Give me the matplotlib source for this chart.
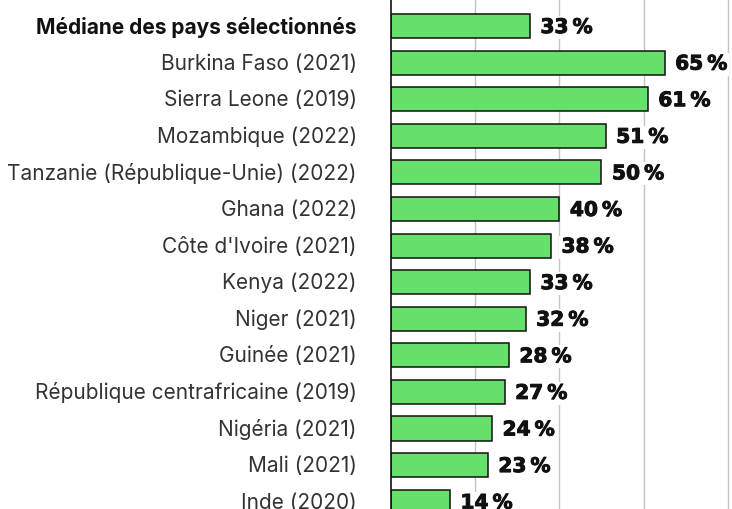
import matplotlib.pyplot as plt
import matplotlib.patheffects as pe
from matplotlib.transforms import ScaledTranslation

# Part des ... par pays (en %), médiane en tête
pays = [
    "Médiane des pays sélectionnés",
    "Burkina Faso (2021)",
    "Sierra Leone (2019)",
    "Mozambique (2022)",
    "Tanzanie (République-Unie) (2022)",
    "Ghana (2022)",
    "Côte d'Ivoire (2021)",
    "Kenya (2022)",
    "Niger (2021)",
    "Guinée (2021)",
    "République centrafricaine (2019)",
    "Nigéria (2021)",
    "Mali (2021)",
    "Inde (2020)",
]
valeurs = [33, 65, 61, 51, 50, 40, 38, 33, 32, 28, 27, 24, 23, 14]
grille = [20, 40, 60, 80]

vert = "#66e06b"

fig = plt.figure(figsize=(7.32, 5.10), dpi=100)
ax = fig.add_axes([391 / 732, 0, 1 - 391 / 732, 1])

pos = list(range(len(pays)))
ax.barh(pos, valeurs, height=0.66, color=vert, edgecolor="#111111",
        linewidth=1.1, zorder=3)

for y, v in zip(pos, valeurs):
    t = ax.text(v + 2.5, y + 0.04, f"{v}\u2009%", va="center", ha="left",
                fontsize=14.5, fontweight="bold", family="DejaVu Sans",
                color="#111111", zorder=4,
                bbox=dict(boxstyle="square,pad=0.1", fc="white", ec="none"))
    t.set_path_effects([pe.withStroke(linewidth=0.7, foreground="#111111")])

for x in grille:
    ax.axvline(x, color="#c4c4c4", linewidth=1.0, zorder=1)

ax.set_xlim(0, 81)
ax.set_ylim(13.2, -0.74)

ax.set_yticks(pos)
ax.set_yticklabels(pays, fontsize=15, family=["Inter", "DejaVu Sans"],
                   color="#333333")
ax.get_yticklabels()[0].set_fontweight("bold")
ax.get_yticklabels()[0].set_color("#111111")
ax.tick_params(axis="y", length=0, pad=24.5)
ax.set_xticks([])

# remonter légèrement les libellés
decal = ScaledTranslation(0, 2 / 100, fig.dpi_scale_trans)
for lab in ax.get_yticklabels():
    lab.set_transform(lab.get_transform() + decal)

for s in ["top", "right", "bottom"]:
    ax.spines[s].set_visible(False)
ax.spines["left"].set_color("#111111")
ax.spines["left"].set_linewidth(1.2)
ax.spines["left"].set_zorder(5)

fig.savefig("out.png", dpi=100)
